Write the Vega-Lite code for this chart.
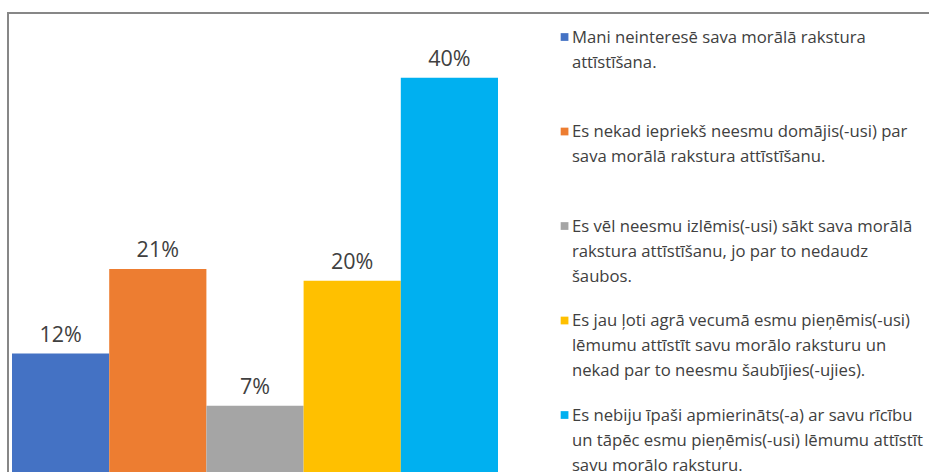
{
  "$schema": "https://vega.github.io/schema/vega-lite/v6.json",
  "width": 931,
  "height": 469,
  "padding": {"left": 8, "top": 13, "right": -10, "bottom": -10},
  "autosize": {"type": "none"},
  "background": "white",
  "config": {
    "view": {"stroke": "#878787", "strokeWidth": 2},
    "style": {"guide-label": {"lineHeight": 25}}
  },
  "data": {
    "values": [
      {"cat": "Mani neinteresē sava morālā rakstura|attīstīšana.|", "share": 0.123},
      {"cat": "Es nekad iepriekš neesmu domājis(-usi) par|sava morālā rakstura attīstīšanu.|", "share": 0.208},
      {"cat": "Es vēl neesmu izlēmis(-usi) sākt sava morālā|rakstura attīstīšanu, jo par to nedaudz|šaubos.", "share": 0.0706},
      {"cat": "Es jau ļoti agrā vecumā esmu pieņēmis(-usi)|lēmumu attīstīt savu morālo raksturu un|nekad par to neesmu šaubījies(-ujies).", "share": 0.196},
      {"cat": "Es nebiju īpaši apmierināts(-a) ar savu rīcību|un tāpēc esmu pieņēmis(-usi) lēmumu attīstīt|savu morālo raksturu.", "share": 0.40}
    ]
  },
  "encoding": {
    "x": {
      "field": "cat", "type": "nominal", "sort": null,
      "scale": {"range": [4, 490], "paddingInner": 0, "paddingOuter": 0},
      "axis": null
    },
    "y": {
      "field": "share", "type": "quantitative",
      "scale": {"domain": [-0.006, 0.465], "nice": false},
      "axis": null
    }
  },
  "layer": [
    {
      "mark": {"type": "bar"},
      "encoding": {
        "color": {
          "field": "cat", "type": "nominal", "sort": null,
          "scale": {"range": ["#4472C4", "#ED7D31", "#A5A5A5", "#FFC000", "#00B0F0"]},
          "legend": {
            "orient": "none", "legendX": 548.2, "legendY": 8.5, "title": null, "padding": 0,
            "direction": "vertical", "columns": 1,
            "symbolType": "M-1,0.85H1V2.85H-1Z", "symbolSize": 60, "symbolStrokeWidth": 0, "symbolOpacity": 1,
            "labelFont": "Open Sans", "labelFontSize": 16.7, "labelColor": "#404040", "labelBaseline": "top",
            "labelOffset": -1, "labelLimit": 400, "labelExpr": "split(datum.label, '|')", "rowPadding": 18.5
          }
        }
      }
    },
    {
      "mark": {"type": "text", "baseline": "alphabetic", "dy": -12, "font": "Open Sans", "fontSize": 21.5, "color": "#404040"},
      "encoding": {
        "text": {"field": "share", "type": "quantitative", "format": ".0%"}
      }
    }
  ]
}
